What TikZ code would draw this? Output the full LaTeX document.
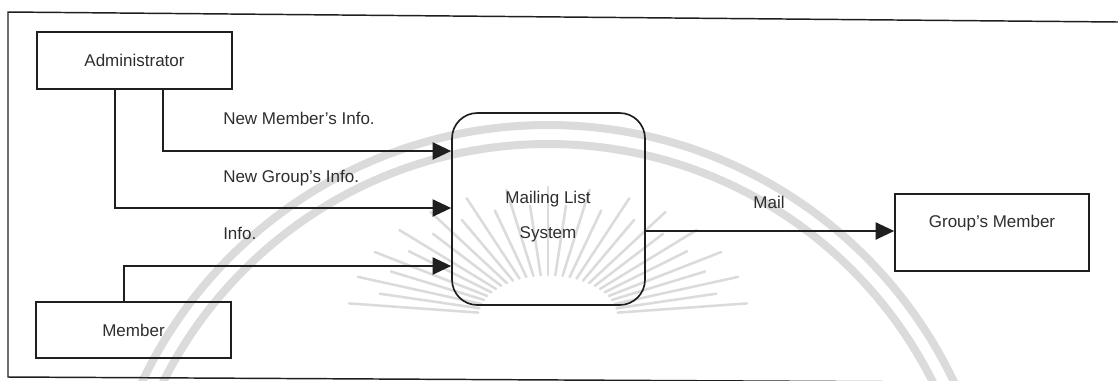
\documentclass[tikz,border=0pt]{standalone}
\usepackage{fontspec}
\setmainfont{Liberation Sans}
\usetikzlibrary{arrows.meta}
\begin{document}
\begin{tikzpicture}[x=0.75pt,y=-0.75pt,
  every node/.style={font=\fontsize{12.75pt}{15pt}\selectfont, text=black!82},
  entity/.style={draw=black!88, line width=1.25pt, inner sep=0pt, minimum width=146.25pt},
  process/.style={draw=black!88, line width=1.25pt, rounded corners=19pt, inner sep=0pt,
                  minimum width=144.75pt, minimum height=144pt},
  flow/.style={draw=black!88, line width=1.1pt, -{Triangle[length=14pt,width=13pt]}},
  flowlabel/.style={anchor=west, inner sep=0pt, text height=9.2pt, text depth=2.6pt},
  seal/.style={draw=black!14, line cap=round}]
\useasboundingbox (0,0) rectangle (1118,380);
\fill[white] (0,0) rectangle (1118,380);

% faint seal printed behind the chart
\begin{scope}
  \clip (0,0) rectangle (1118,380);
  \draw[seal, line width=6pt] (548,574) circle[radius=449];
  \draw[seal, line width=6pt] (548,574) circle[radius=430];
  \foreach \a in {186,198,...,354}
    \draw[seal, line width=1.9pt] ([shift={(\a:70 and 42)}]548,317) -- ([shift={(\a:200 and 130)}]548,317);
  \foreach \a in {192,204,...,348}
    \draw[seal, line width=1.9pt] ([shift={(\a:70 and 42)}]548,317) -- ([shift={(\a:172 and 112)}]548,317);
\end{scope}

% page frame
\draw[draw=black!88, line width=1.1pt] (1118,22) -- (8,12) -- (8,377) -- (1118,383);

% external entities and the process
\node[entity, minimum height=42.75pt] (admin) at (134.5,60.5) {Administrator};
\node[entity, minimum height=42pt] (member) at (133.5,330) {Member};
\node[process] (mls) at (548.5,209) {};
\node[align=center, font=\fontsize{12.75pt}{26.25pt}\selectfont] (mlstext) at (548,217) {Mailing List\\System};
\node[entity, minimum width=145.5pt, minimum height=57.75pt] (gm) at (992,232.5) {};
\node (gmtext) at ([yshift=7pt]gm.center) {Group's Member};

% rails of the data flows
\coordinate (r1) at (163,151);
\coordinate (r2) at (115,208);
\coordinate (r3) at (124,266);
\coordinate (r4) at (0,231);

\draw[flow] (admin.south -| r1) |- (mls.west |- r1);
\draw[flow] (admin.south -| r2) |- (mls.west |- r2);
\draw[flow] (member.north -| r3) |- (mls.west |- r3);
\draw[flow] (mls.east |- r4) -- (gm.west |- r4);

% flow labels
\node[flowlabel] (l1) at (223,120) {New Member's Info.};
\node[flowlabel] (l2) at (223,178) {New Group's Info.};
\node[flowlabel] (l3) at (223,235) {Info.};
\node (l4) at (769,202) {Mail};
\end{tikzpicture}
\end{document}
